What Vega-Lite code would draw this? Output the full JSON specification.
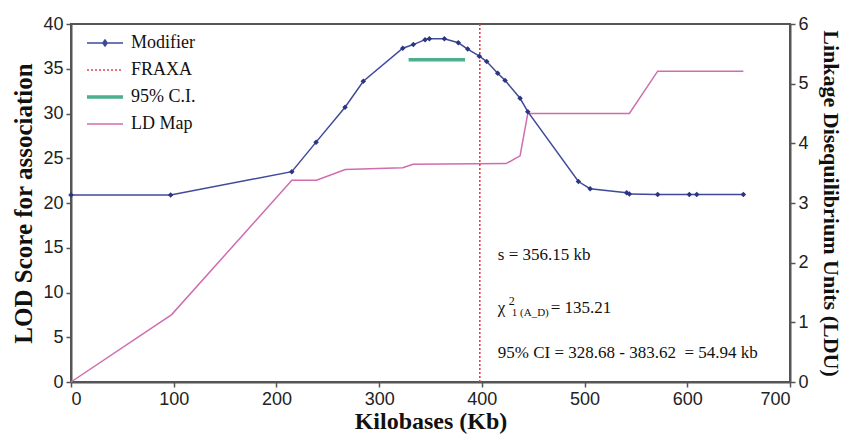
{
  "$schema": "https://vega.github.io/schema/vega-lite/v6.json",
  "width": 719,
  "height": 358,
  "autosize": {"type": "none"},
  "padding": {"left": 71, "top": 24, "right": 54, "bottom": 52},
  "background": "white",
  "config": {
    "view": {"stroke": "#555", "strokeWidth": 2},
    "axis": {
      "grid": false,
      "domainColor": "#555",
      "domainWidth": 2,
      "tickColor": "#555",
      "tickSize": 5,
      "tickWidth": 1.5,
      "labelFont": "Liberation Sans",
      "labelFontSize": 18,
      "labelColor": "#222",
      "labelPadding": 3,
      "titleFont": "Liberation Serif",
      "titleFontWeight": "bold",
      "titleColor": "#111"
    },
    "legend": {
      "orient": "none",
      "legendX": 25,
      "legendY": 10,
      "padding": 0,
      "title": null,
      "labelFont": "Liberation Serif",
      "labelFontSize": 18,
      "labelColor": "#111",
      "symbolType": "stroke",
      "symbolSize": 1300,
      "symbolStrokeWidth": 1.5,
      "labelOffset": 17,
      "rowPadding": 9
    }
  },
  "datasets": {
    "modifier": [
      {"kb": 0, "lod": 20.9},
      {"kb": 97, "lod": 20.9},
      {"kb": 215, "lod": 23.5},
      {"kb": 238.6, "lod": 26.8},
      {"kb": 266.8, "lod": 30.7},
      {"kb": 284.6, "lod": 33.6},
      {"kb": 323, "lod": 37.3},
      {"kb": 333.3, "lod": 37.7},
      {"kb": 344.7, "lod": 38.25},
      {"kb": 348.9, "lod": 38.35},
      {"kb": 363.5, "lod": 38.35},
      {"kb": 377.1, "lod": 37.9},
      {"kb": 386.2, "lod": 37.2},
      {"kb": 397.6, "lod": 36.4},
      {"kb": 404.7, "lod": 35.8},
      {"kb": 415.4, "lod": 34.5},
      {"kb": 422.6, "lod": 33.7},
      {"kb": 437.2, "lod": 31.7},
      {"kb": 444.7, "lod": 30.2},
      {"kb": 494, "lod": 22.4},
      {"kb": 505.4, "lod": 21.6},
      {"kb": 541, "lod": 21.15},
      {"kb": 543.6, "lod": 21.0},
      {"kb": 571.2, "lod": 20.95},
      {"kb": 602, "lod": 20.95},
      {"kb": 609.2, "lod": 20.95},
      {"kb": 654.6, "lod": 20.95}
    ],
    "ldmap": [
      {"kb": 0, "ldu": 0},
      {"kb": 98, "ldu": 1.13},
      {"kb": 215, "ldu": 3.38},
      {"kb": 239, "ldu": 3.38},
      {"kb": 267, "ldu": 3.56},
      {"kb": 323, "ldu": 3.59},
      {"kb": 333, "ldu": 3.65},
      {"kb": 423.6, "ldu": 3.66},
      {"kb": 437.2, "ldu": 3.79},
      {"kb": 444.7, "ldu": 4.5},
      {"kb": 543.6, "ldu": 4.5},
      {"kb": 571.2, "ldu": 5.21},
      {"kb": 654.6, "ldu": 5.21}
    ],
    "fraxa": [{"kb": 398}],
    "ci": [{"lo": 328.68, "hi": 383.62, "lod": 36}],
    "notes": [
      {"label": "s = 356.15 kb", "kb": 415.5, "lod": 13.6},
      {"label": "χ", "kb": 415.5, "lod": 7.7},
      {"label": "95% CI = 328.68 - 383.62 \u00a0= 54.94 kb", "kb": 415.5, "lod": 2.7}
    ],
    "sup": [{"label": "2", "kb": 415.5, "lod": 7.7}],
    "sub": [{"label": "1 (A_D)", "kb": 415.5, "lod": 7.7}],
    "chival": [{"label": "= 135.21", "kb": 415.5, "lod": 7.7}]
  },
  "layer": [
    {
      "data": {"name": "ldmap"},
      "mark": {"type": "line", "strokeWidth": 1.5},
      "encoding": {
        "x": {"field": "kb", "type": "quantitative", "scale": {"domain": [0, 700], "nice": false}, "axis": {"values": [0, 100, 200, 300, 400, 500, 600, 700], "title": "Kilobases (Kb)", "titleFontSize": 24, "titlePadding": 1}},
        "y": {"field": "ldu", "type": "quantitative", "scale": {"domain": [0, 6], "nice": false}, "axis": {"orient": "right", "values": [0, 1, 2, 3, 4, 5, 6], "title": "Linkage Disequilibrium Units (LDU)", "titleFontSize": 22, "titlePadding": 10}},
        "color": {
          "datum": "LD Map",
          "scale": {"domain": ["Modifier", "FRAXA", "95% C.I.", "LD Map"], "range": ["#3F4A9C", "#E8404A", "#4CAF8F", "#CF6DB0"]},
          "legend": {
            "encode": {
              "symbols": {
                "update": {
                  "shape": {"signal": "datum.value === 'Modifier' ? 'M-1,0H1M0,-0.17L0.12,0L0,0.17L-0.12,0Z' : 'stroke'"},
                  "strokeDash": {"signal": "datum.value === 'FRAXA' ? [2, 2] : [1, 0]"},
                  "strokeWidth": {"signal": "datum.value === '95% C.I.' ? 3.5 : 1.5"},
                  "fill": {"signal": "datum.value === 'Modifier' ? '#2B3580' : 'transparent'"}
                }
              }
            }
          }
        }
      }
    },
    {
      "data": {"name": "fraxa"},
      "mark": {"type": "rule", "strokeWidth": 1.6, "strokeDash": [2, 2]},
      "encoding": {
        "x": {"field": "kb", "type": "quantitative", "scale": {"domain": [0, 700], "nice": false}, "title": "Kilobases (Kb)"},
        "color": {"datum": "FRAXA"}
      }
    },
    {
      "data": {"name": "ci"},
      "mark": {"type": "rule", "strokeWidth": 3.5},
      "encoding": {
        "x": {"field": "lo", "type": "quantitative", "scale": {"domain": [0, 700], "nice": false}, "title": "Kilobases (Kb)"},
        "x2": {"field": "hi"},
        "y": {"field": "lod", "type": "quantitative", "scale": {"domain": [0, 40], "nice": false}, "axis": null},
        "color": {"datum": "95% C.I."}
      }
    },
    {
      "data": {"name": "modifier"},
      "mark": {"type": "line", "strokeWidth": 1.5},
      "encoding": {
        "x": {"field": "kb", "type": "quantitative", "scale": {"domain": [0, 700], "nice": false}, "title": "Kilobases (Kb)"},
        "y": {"field": "lod", "type": "quantitative", "scale": {"domain": [0, 40], "nice": false}, "axis": {"orient": "left", "values": [0, 5, 10, 15, 20, 25, 30, 35, 40], "title": "LOD Score for association", "titleFontSize": 25, "titlePadding": 6}},
        "color": {"datum": "Modifier"}
      }
    },
    {
      "data": {"name": "modifier"},
      "mark": {"type": "point", "shape": "diamond", "filled": true, "size": 30, "opacity": 1, "color": "#2B3580"},
      "encoding": {
        "x": {"field": "kb", "type": "quantitative", "scale": {"domain": [0, 700], "nice": false}, "title": "Kilobases (Kb)"},
        "y": {"field": "lod", "type": "quantitative", "scale": {"domain": [0, 40], "nice": false}, "axis": null}
      }
    },
    {
      "data": {"name": "notes"},
      "mark": {"type": "text", "align": "left", "baseline": "alphabetic", "font": "Liberation Serif", "fontSize": 17, "color": "#111"},
      "encoding": {
        "x": {"field": "kb", "type": "quantitative", "scale": {"domain": [0, 700], "nice": false}, "title": "Kilobases (Kb)"},
        "y": {"field": "lod", "type": "quantitative", "scale": {"domain": [0, 40], "nice": false}, "axis": null},
        "text": {"field": "label"}
      }
    },
    {
      "data": {"name": "sup"},
      "mark": {"type": "text", "align": "left", "baseline": "alphabetic", "font": "Liberation Serif", "fontSize": 12, "color": "#111", "dx": 11, "dy": -8},
      "encoding": {
        "x": {"field": "kb", "type": "quantitative", "scale": {"domain": [0, 700], "nice": false}, "title": "Kilobases (Kb)"},
        "y": {"field": "lod", "type": "quantitative", "scale": {"domain": [0, 40], "nice": false}, "axis": null},
        "text": {"field": "label"}
      }
    },
    {
      "data": {"name": "sub"},
      "mark": {"type": "text", "align": "left", "baseline": "alphabetic", "font": "Liberation Serif", "fontSize": 11, "color": "#111", "dx": 14, "dy": 3},
      "encoding": {
        "x": {"field": "kb", "type": "quantitative", "scale": {"domain": [0, 700], "nice": false}, "title": "Kilobases (Kb)"},
        "y": {"field": "lod", "type": "quantitative", "scale": {"domain": [0, 40], "nice": false}, "axis": null},
        "text": {"field": "label"}
      }
    },
    {
      "data": {"name": "chival"},
      "mark": {"type": "text", "align": "left", "baseline": "alphabetic", "font": "Liberation Serif", "fontSize": 17, "color": "#111", "dx": 53},
      "encoding": {
        "x": {"field": "kb", "type": "quantitative", "scale": {"domain": [0, 700], "nice": false}, "title": "Kilobases (Kb)"},
        "y": {"field": "lod", "type": "quantitative", "scale": {"domain": [0, 40], "nice": false}, "axis": null},
        "text": {"field": "label"}
      }
    }
  ],
  "resolve": {"scale": {"y": "independent"}}
}
